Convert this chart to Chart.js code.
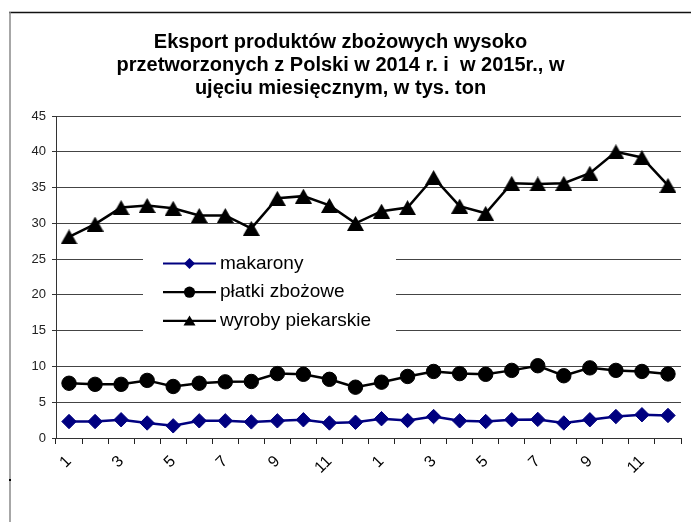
<!DOCTYPE html>
<html>
<head>
<meta charset="utf-8">
<script src="https://cdn.jsdelivr.net/npm/chart.js@4/dist/chart.umd.min.js"></script>
<style>
html,body{margin:0;padding:0;background:#fff;}
canvas{display:block;}
</style>
</head>
<body>
<canvas id="c" width="691" height="522"></canvas>
<script>
const months = ['1','2','3','4','5','6','7','8','9','10','11','12','1','2','3','4','5','6','7','8','9','10','11','12'];
const makarony = [2.3, 2.3, 2.55, 2.1, 1.7, 2.4, 2.4, 2.25, 2.4, 2.55, 2.1, 2.2, 2.7, 2.45, 3.0, 2.4, 2.3, 2.55, 2.6, 2.1, 2.55, 3.0, 3.25, 3.15];
const platki = [7.65, 7.5, 7.5, 8.05, 7.2, 7.65, 7.85, 7.9, 9.0, 8.9, 8.2, 7.1, 7.8, 8.6, 9.3, 9.0, 8.9, 9.45, 10.1, 8.7, 9.8, 9.45, 9.3, 8.95];
const wyroby = [28.1, 29.9, 32.2, 32.5, 32.1, 31.1, 31.1, 29.3, 33.5, 33.8, 32.5, 30.0, 31.7, 32.2, 36.4, 32.4, 31.4, 35.6, 35.5, 35.6, 37.0, 40.0, 39.2, 35.3];
const seriesNames = ['makarony', 'płatki zbożowe', 'wyroby piekarskie'];
const titleLines = ['Eksport produktów zbożowych wysoko', 'przetworzonych z Polski w 2014 r. i  w 2015r., w', 'ujęciu miesięcznym, w tys. ton'];

const FONT = '"Liberation Sans", Arial, sans-serif';

function triImg(w, h, color) {
  const c = document.createElement('canvas');
  c.width = w; c.height = h;
  const g = c.getContext('2d');
  g.fillStyle = color;
  g.beginPath();
  g.moveTo(w / 2, 0); g.lineTo(w, h); g.lineTo(0, h); g.closePath();
  g.fill();
  return c;
}
const triBig = triImg(17, 15, '#000');

const framePlugin = {
  id: 'frame',
  beforeDraw(chart) {
    const ctx = chart.ctx;
    ctx.save();
    ctx.fillStyle = '#fff';
    ctx.fillRect(0, 0, chart.width, chart.height);
    ctx.strokeStyle = '#111';
    ctx.lineWidth = 1.5;
    ctx.beginPath(); ctx.moveTo(9, 12.5); ctx.lineTo(691, 12.5); ctx.stroke();
    ctx.strokeStyle = '#8a8a8a';
    ctx.lineWidth = 1.5;
    ctx.beginPath(); ctx.moveTo(10, 12); ctx.lineTo(10, 522); ctx.stroke();
    ctx.fillStyle = '#000';
    ctx.fillRect(9, 479, 2, 2);
    ctx.restore();
  }
};

const legendPlugin = {
  id: 'insetLegend',
  afterDatasetsDraw(chart) {
    const ctx = chart.ctx;
    ctx.save();
    ctx.fillStyle = '#fff';
    ctx.fillRect(143, 243, 253, 94);
    chart.data.datasets.forEach((ds, i) => {
      const y = 263.5 + i * 28.7;
      ctx.strokeStyle = ds.borderColor;
      ctx.lineWidth = 2.2;
      ctx.beginPath(); ctx.moveTo(163, y); ctx.lineTo(216, y); ctx.stroke();
      ctx.fillStyle = ds.backgroundColor;
      const cx = 189.5;
      ctx.beginPath();
      if (i === 0) {
        ctx.moveTo(cx, y - 5.5); ctx.lineTo(cx + 5.5, y); ctx.lineTo(cx, y + 5.5); ctx.lineTo(cx - 5.5, y); ctx.closePath();
      } else if (i === 1) {
        ctx.arc(cx, y, 5.6, 0, Math.PI * 2);
      } else {
        ctx.moveTo(cx, y - 5.5); ctx.lineTo(cx + 6, y + 4.5); ctx.lineTo(cx - 6, y + 4.5); ctx.closePath();
      }
      ctx.fill();
      ctx.fillStyle = '#000';
      ctx.font = '19px ' + FONT;
      ctx.textBaseline = 'middle';
      ctx.textAlign = 'left';
      ctx.fillText(ds.label, 220, y);
    });
    ctx.restore();
  }
};

new Chart(document.getElementById('c'), {
  type: 'line',
  data: {
    labels: months,
    datasets: [
      {
        label: seriesNames[0], data: makarony,
        borderColor: '#000080', backgroundColor: '#000080',
        borderWidth: 2.5, pointStyle: 'rectRot', pointRadius: 7.2,
        pointBorderWidth: 1, pointBorderColor: '#000080', pointBackgroundColor: '#000080', tension: 0
      },
      {
        label: seriesNames[1], data: platki,
        borderColor: '#000', backgroundColor: '#000',
        borderWidth: 2.5, pointStyle: 'circle', pointRadius: 7.2,
        pointBorderWidth: 1, pointBorderColor: '#000', pointBackgroundColor: '#000', tension: 0
      },
      {
        label: seriesNames[2], data: wyroby,
        borderColor: '#000', backgroundColor: '#000',
        borderWidth: 2.5, pointStyle: triBig, pointRadius: 8,
        pointBorderWidth: 0, tension: 0
      }
    ]
  },
  options: {
    responsive: false,
    devicePixelRatio: 1,
    animation: false,
    layout: { padding: { left: 0, right: 10, top: 0, bottom: 0 } },
    plugins: {
      legend: { display: false },
      tooltip: { enabled: false },
      title: {
        display: true,
        text: titleLines,
        color: '#000',
        font: { family: FONT, size: 20, weight: 'bold', lineHeight: '23px' },
        padding: { top: 31, bottom: 16 }
      }
    },
    scales: {
      x: {
        offset: true,
        grid: {
          offset: true, drawOnChartArea: false, drawTicks: true,
          tickLength: 6, tickColor: '#222', tickWidth: 1
        },
        border: { display: true, color: '#333', width: 1 },
        ticks: {
          autoSkip: false, minRotation: 45, maxRotation: 45,
          color: '#000', padding: 8,
          font: { family: FONT, size: 16 },
          callback: function (val, idx) { return idx % 2 === 0 ? months[idx] : ''; }
        },
        afterFit: function (s) { s.height = 84; }
      },
      y: {
        min: 0, max: 45,
        grid: {
          color: '#444', lineWidth: 1, borderDash: [1, 1],
          drawTicks: true, tickLength: 4, tickColor: '#333', tickBorderDash: []
        },
        border: { display: true, color: '#333', width: 1 },
        ticks: {
          stepSize: 5, color: '#222', padding: 6,
          font: { family: FONT, size: 13 }
        },
        afterFit: function (s) { s.width = 56; }
      }
    }
  },
  plugins: [framePlugin, legendPlugin]
});
</script>
</body>
</html>
